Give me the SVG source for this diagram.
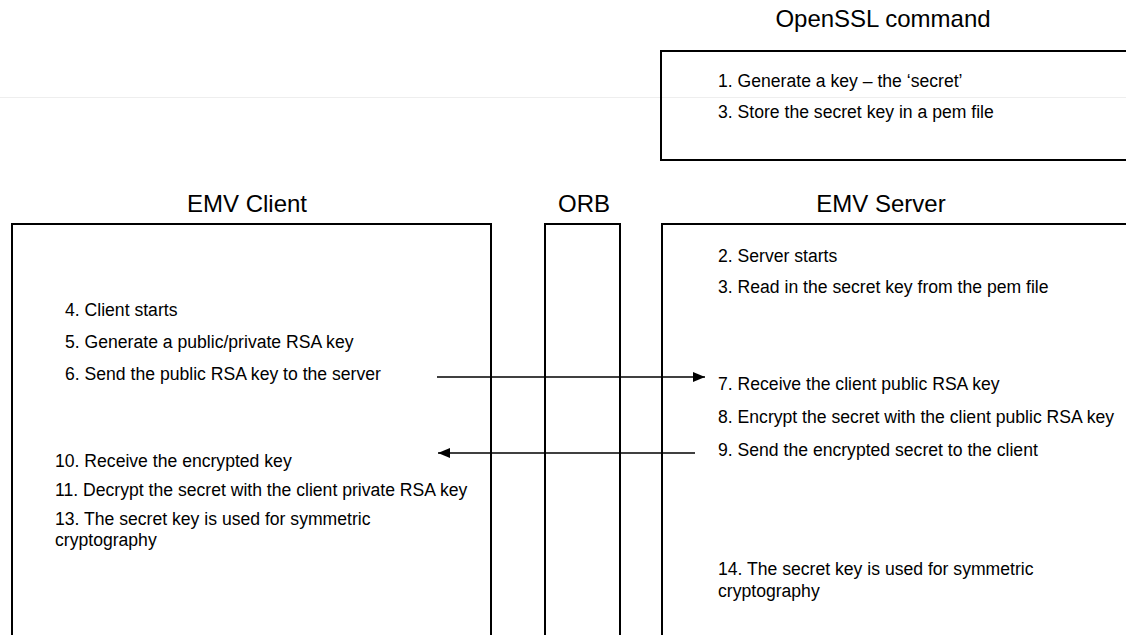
<svg xmlns="http://www.w3.org/2000/svg" width="1126" height="635" viewBox="0 0 1126 635">
<defs>
<style>
.box{fill:none;stroke:#000;stroke-width:2}
.title{font-family:"Liberation Sans",Arial,sans-serif;font-size:24px;fill:#000;text-anchor:middle}
.t{font-family:"Liberation Sans",Arial,sans-serif;font-size:17.6px;fill:#000}
.conn{stroke:#000;stroke-width:1.5;fill:none}
</style>
<marker id="ah" markerUnits="userSpaceOnUse" markerWidth="13" markerHeight="11" refX="12" refY="5" orient="auto">
<path d="M0,0 L12,5 L0,10 z" fill="#000"/>
</marker>
</defs>
<rect width="1126" height="635" fill="#fff"/>
<line x1="0" y1="97.5" x2="1126" y2="97.5" stroke="#eeeeee" stroke-width="1"/>
<g id="openssl">
<text class="title" x="883" y="27">OpenSSL command</text>
<rect class="box" x="661" y="51" width="500" height="109"/>
<text class="t" x="718" y="87">1. Generate a key – the ‘secret’</text>
<text class="t" x="718" y="118">3. Store the secret key in a pem file</text>
</g>
<g id="client">
<text class="title" x="247" y="212">EMV Client</text>
<rect class="box" x="12" y="224" width="479" height="500"/>
<text class="t" x="65" y="316">4. Client starts</text>
<text class="t" x="65" y="348">5. Generate a public/private RSA key</text>
<text class="t" x="65" y="380">6. Send the public RSA key to the server</text>
<text class="t" x="55" y="467">10. Receive the encrypted key</text>
<text class="t" x="55" y="496">11. Decrypt the secret with the client private RSA key</text>
<text class="t" x="55" y="525">13. The secret key is used for symmetric</text>
<text class="t" x="55" y="546">cryptography</text>
</g>
<g id="orb">
<text class="title" x="584" y="212">ORB</text>
<rect class="box" x="545" y="224" width="75" height="500"/>
</g>
<g id="server">
<text class="title" x="881" y="212">EMV Server</text>
<rect class="box" x="662" y="224" width="500" height="500"/>
<text class="t" x="718" y="262">2. Server starts</text>
<text class="t" x="718" y="293">3. Read in the secret key from the pem file</text>
<text class="t" x="718" y="390">7. Receive the client public RSA key</text>
<text class="t" x="718" y="423">8. Encrypt the secret with the client public RSA key</text>
<text class="t" x="718" y="456">9. Send the encrypted secret to the client</text>
<text class="t" x="718" y="575">14. The secret key is used for symmetric</text>
<text class="t" x="718" y="597">cryptography</text>
</g>
<g id="connectors">
<line class="conn" x1="437" y1="377" x2="705" y2="377" marker-end="url(#ah)"/>
<line class="conn" x1="695" y1="453" x2="438" y2="453" marker-end="url(#ah)"/>
</g>
</svg>
